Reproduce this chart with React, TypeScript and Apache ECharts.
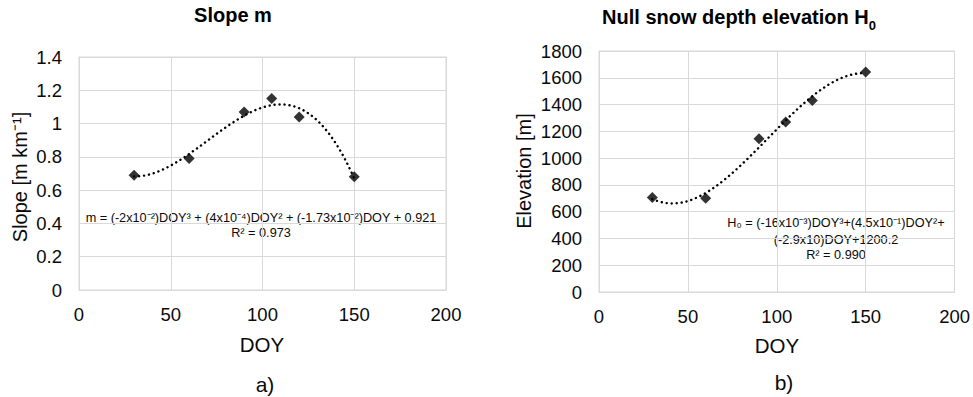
import React, { useEffect, useRef } from "react";
import * as echarts from "echarts";

// ---- data ----
const doySlope: number[] = [30, 60, 90, 105, 120, 150];
const slopeValues: number[] = [0.69, 0.79, 1.07, 1.15, 1.04, 0.68];
const doyElev: number[] = [30, 60, 90, 105, 120, 150];
const elevValues: number[] = [705, 700, 1145, 1270, 1430, 1643];

const titleLeft = "Slope m";
const titleRightMain = "Null snow depth elevation H";
const titleRightSub = "0";
const eqLeft = ["m = (-2x10⁻²)DOY³ + (4x10⁻⁴)DOY² + (-1.73x10⁻²)DOY + 0.921", "R² = 0.973"];
const eqRight = ["H₀ = (-16x10⁻³)DOY³+(4.5x10⁻¹)DOY²+", "(-2.9x10)DOY+1200.2", "R² = 0.990"];

// Least squares cubic trendline fitted to the data (like a spreadsheet trendline)
function cubicFit(xs: number[], ys: number[]) {
  const c = 90, s = 60;
  const n = 4;
  const A: number[][] = Array.from({ length: n }, () => new Array(n + 1).fill(0));
  xs.forEach((x, k) => {
    const t = (x - c) / s;
    const p = [1, t, t * t, t * t * t];
    for (let i = 0; i < n; i++) {
      for (let j = 0; j < n; j++) A[i][j] += p[i] * p[j];
      A[i][n] += p[i] * ys[k];
    }
  });
  for (let i = 0; i < n; i++) {
    let piv = i;
    for (let r = i + 1; r < n; r++) if (Math.abs(A[r][i]) > Math.abs(A[piv][i])) piv = r;
    [A[i], A[piv]] = [A[piv], A[i]];
    for (let r = 0; r < n; r++) {
      if (r === i) continue;
      const f = A[r][i] / A[i][i];
      for (let j = i; j <= n; j++) A[r][j] -= f * A[i][j];
    }
  }
  const coef = A.map((row, i) => row[n] / row[i]);
  const lo = Math.min(...xs), hi = Math.max(...xs);
  const out: number[][] = [];
  for (let x = lo; x <= hi; x += 1) {
    const t = (x - c) / s;
    out.push([x, coef[0] + coef[1] * t + coef[2] * t * t + coef[3] * t * t * t]);
  }
  return out;
}

const FONT = "'Liberation Sans', Arial, Helvetica, sans-serif";
const GRIDC = "#d9d9d9";
const TXT = "#0a0a0a";

export default function App() {
  const ref = useRef<HTMLDivElement>(null);
  useEffect(() => {
    if (!ref.current) return;
    const chart = echarts.init(ref.current, undefined, { renderer: "svg" });
    const axisCommonX = (gi: number) => ({
      type: "value",
      gridIndex: gi,
      min: 0,
      max: 200,
      interval: 50,
      axisLine: { show: true, lineStyle: { color: GRIDC } },
      axisTick: { show: false },
      splitLine: { show: true, lineStyle: { color: GRIDC, width: 1 } },
      axisLabel: { color: TXT, fontSize: 18.5, fontFamily: FONT, margin: 15 },
    });
    const axisY = (gi: number, max: number, interval: number) => ({
      type: "value",
      gridIndex: gi,
      min: 0,
      max,
      interval,
      axisLine: { show: true, lineStyle: { color: GRIDC } },
      axisTick: { show: false },
      splitLine: { show: true, lineStyle: { color: GRIDC, width: 1 } },
      axisLabel: {
        color: TXT,
        fontSize: 18.5,
        fontFamily: FONT,
        margin: 17,
        formatter: (v: number) => String(Math.round(v * 100) / 100),
      },
    });
    const trendStyle = { color: "#000", width: 2.4, type: [0.1, 4.9], cap: "round" };
    const txt = (text: string, x: number, y: number, size: number, extra: any = {}) => ({
      type: "text",
      x,
      y,
      style: {
        text,
        fontSize: size,
        fontFamily: FONT,
        fill: TXT,
        align: "center",
        verticalAlign: "middle",
        ...extra,
      },
    });
    chart.setOption({
      animation: false,
      backgroundColor: "#fff",
      grid: [
        { left: 79, top: 57, width: 367, height: 233, show: true, borderColor: GRIDC, borderWidth: 1 },
        { left: 599, top: 51, width: 357, height: 241, show: true, borderColor: GRIDC, borderWidth: 1 },
      ],
      xAxis: [axisCommonX(0), axisCommonX(1)],
      yAxis: [axisY(0, 1.4, 0.2), axisY(1, 1800, 200)],
      series: [
        {
          type: "line",
          xAxisIndex: 0,
          yAxisIndex: 0,
          data: cubicFit(doySlope, slopeValues),
          showSymbol: false,
          lineStyle: trendStyle,
          z: 2,
        },
        {
          type: "scatter",
          xAxisIndex: 0,
          yAxisIndex: 0,
          data: doySlope.map((d, i) => [d, slopeValues[i]]),
          symbol: "diamond",
          symbolSize: 11,
          itemStyle: { color: "#000" },
          z: 3,
        },
        {
          type: "line",
          xAxisIndex: 1,
          yAxisIndex: 1,
          data: cubicFit(doyElev, elevValues),
          showSymbol: false,
          lineStyle: trendStyle,
          z: 2,
        },
        {
          type: "scatter",
          xAxisIndex: 1,
          yAxisIndex: 1,
          data: doyElev.map((d, i) => [d, elevValues[i]]),
          symbol: "diamond",
          symbolSize: 11,
          itemStyle: { color: "#000" },
          z: 3,
        },
      ],
      graphic: [
        txt(titleLeft, 233, 15, 20, { fontWeight: "bold", fill: "#000" }),
        txt(`{b|${titleRightMain}}{s|${titleRightSub}}`, 739, 17, 20, {
          fontWeight: "bold",
          fill: "#000",
          rich: {
            b: { fontSize: 20, fontWeight: "bold", fontFamily: FONT, fill: "#000", lineHeight: 30 },
            s: {
              fontSize: 13,
              fontWeight: "bold",
              fontFamily: FONT,
              fill: "#000",
              lineHeight: 30,
              verticalAlign: "bottom",
            },
          },
        }),
        { ...txt("Slope [m km⁻¹]", 20, 177, 20), rotation: Math.PI / 2 },
        { ...txt("Elevation [m]", 524, 171, 20), rotation: Math.PI / 2 },
        txt("DOY", 262, 344, 20.5),
        txt("DOY", 777, 345, 20.5),
        txt("a)", 265, 384, 21),
        txt("b)", 784, 382, 21),
        txt(eqLeft[0], 261, 218, 12.7),
        txt(eqLeft[1], 261, 233, 12.7),
        txt(eqRight[0], 836, 223, 12.7),
        txt(eqRight[1], 836, 240, 12.7),
        txt(eqRight[2], 836, 255, 12.7),
      ],
    });
    return () => chart.dispose();
  }, []);
  return (
    <div
      ref={ref}
      style={{ position: "fixed", left: 0, top: 0, width: 973, height: 397, background: "#fff" }}
    />
  );
}
